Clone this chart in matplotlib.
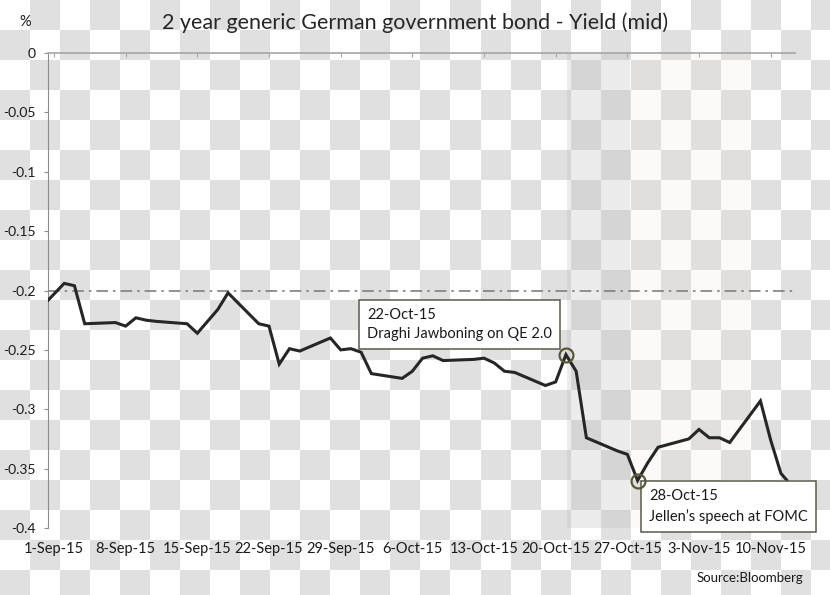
import numpy as np
import pandas as pd
import matplotlib
matplotlib.use("Agg")
import matplotlib.pyplot as plt

plt.rcParams['font.family'] = ['Lato', 'DejaVu Sans']

# 2y German bond yield (mid), business days
dates = ['2015-08-31', '2015-09-01', '2015-09-02', '2015-09-03', '2015-09-04',
         '2015-09-07', '2015-09-08', '2015-09-09', '2015-09-10', '2015-09-11',
         '2015-09-14', '2015-09-15', '2015-09-16', '2015-09-17', '2015-09-18',
         '2015-09-21', '2015-09-22', '2015-09-23', '2015-09-24', '2015-09-25',
         '2015-09-28', '2015-09-29', '2015-09-30', '2015-10-01', '2015-10-02',
         '2015-10-05', '2015-10-06', '2015-10-07', '2015-10-08', '2015-10-09',
         '2015-10-12', '2015-10-13', '2015-10-14', '2015-10-15', '2015-10-16',
         '2015-10-19', '2015-10-20', '2015-10-21', '2015-10-22', '2015-10-23',
         '2015-10-26', '2015-10-27', '2015-10-28', '2015-10-29', '2015-10-30',
         '2015-11-02', '2015-11-03', '2015-11-04', '2015-11-05', '2015-11-06',
         '2015-11-09', '2015-11-10', '2015-11-11', '2015-11-12']
yields = [-0.212, -0.203, -0.194, -0.196, -0.228,
          -0.227, -0.230, -0.223, -0.225, -0.226,
          -0.228, -0.236, -0.226, -0.216, -0.202,
          -0.228, -0.230, -0.262, -0.249, -0.251,
          -0.240, -0.250, -0.249, -0.252, -0.270,
          -0.274, -0.268, -0.257, -0.255, -0.259,
          -0.258, -0.257, -0.261, -0.268, -0.269,
          -0.280, -0.277, -0.254, -0.268, -0.324,
          -0.335, -0.338, -0.360, -0.345, -0.332,
          -0.325, -0.317, -0.324, -0.324, -0.328,
          -0.293, -0.326, -0.354, -0.364]

tick_dates = ['2015-09-01', '2015-09-08', '2015-09-15', '2015-09-22', '2015-09-29',
              '2015-10-06', '2015-10-13', '2015-10-20', '2015-10-27', '2015-11-03',
              '2015-11-10']
tick_labels = ['1-Sep-15', '8-Sep-15', '15-Sep-15', '22-Sep-15', '29-Sep-15',
               '6-Oct-15', '13-Oct-15', '20-Oct-15', '27-Oct-15', '3-Nov-15',
               '10-Nov-15']
y_ticks = [0, -0.05, -0.1, -0.15, -0.2, -0.25, -0.3, -0.35, -0.4]
y_labels = ['0', '-0.05', '-0.1', '-0.15', '-0.2', '-0.25', '-0.3', '-0.35', '-0.4']

ref_level = -0.2
event_dates = ['2015-10-21', '2015-10-28']
event_texts = ['22-Oct-15\nDraghi Jawboning on QE 2.0',
               '28-Oct-15\nJellen\u2019s speech at FOMC']
event_offsets = [(-106, 30), (91, -26)]   # pixels, box centre from point

dark_band = ('2015-10-21 03:00', '2015-10-27 06:00')
light_band = ('2015-10-27 06:00', '2015-11-08 00:00')

x = pd.to_datetime(dates)
s = pd.Series(yields, index=x)

fig = plt.figure(figsize=(8.3, 5.95), dpi=100)

# checkered background (transparent png look)
bg = fig.add_axes([0, 0, 1, 1], zorder=-10)
rows, cols = 20, 28
checker = (np.add.outer(np.arange(rows), np.arange(cols)) % 2).astype(float)
bg.imshow(checker, cmap=matplotlib.colors.ListedColormap(['#ffffff', '#e0e0e0']),
          extent=(0, cols * 30, rows * 30, 0), interpolation='nearest')
bg.set_xlim(0, 830)
bg.set_ylim(595, 0)
bg.axis('off')

ax = fig.add_axes([48 / 830, 67 / 595, 747 / 830, 475 / 595])
ax.patch.set_alpha(0)

ax.axvspan(pd.Timestamp(dark_band[0]), pd.Timestamp(dark_band[1]),
           color='#b6b6b6', alpha=0.26, lw=0, zorder=0)
ax.axvspan(pd.Timestamp(light_band[0]), pd.Timestamp(light_band[1]),
           color='#e8dcc0', alpha=0.14, lw=0, zorder=0)

ax.axhline(ref_level, color='#7f7f7f', lw=1.2, ls=(0, (7, 3, 1.5, 3)), zorder=1)
ax.plot(x, yields, color='#262626', lw=2.2, zorder=3, solid_joinstyle='miter')

for d, txt, off in zip(event_dates, event_texts, event_offsets):
    xd = pd.Timestamp(d)
    yv = s[xd]
    ax.plot([xd], [yv], marker='o', ms=10, mfc='none', mec='#5a5638', mew=1.6,
            zorder=7, clip_on=False)
    ax.annotate(txt, xy=(xd, yv), xytext=off, textcoords='offset pixels',
                ha='center', va='center', multialignment='left', fontsize=10.5,
                linespacing=1.45, color='#1a1a1a', zorder=6, annotation_clip=False,
                bbox=dict(boxstyle='square,pad=0.55', fc='white', ec='#5a5a4a', lw=1.1))

ax.set_xlim(pd.Timestamp('2015-09-01') - pd.Timedelta(hours=14),
            pd.Timestamp('2015-09-01') + pd.Timedelta(hours=int(72.4 * 24)))
ax.set_ylim(-0.4, 0)
ax.set_yticks(y_ticks)
ax.set_yticklabels(y_labels)
ax.set_xticks(pd.to_datetime(tick_dates))
ax.set_xticklabels(tick_labels)

for sp in ['right', 'bottom']:
    ax.spines[sp].set_visible(False)
ax.spines['left'].set_color('#8c8c8c')
ax.spines['top'].set_color('#a6a6a6')
ax.spines['top'].set_linewidth(1.2)

ax.tick_params(axis='y', length=3, color='#8c8c8c', pad=6, labelsize=10,
               labelcolor='#1a1a1a')
ax.tick_params(axis='x', bottom=False, top=True, direction='in', length=3,
               color='#a6a6a6', labelbottom=True, labeltop=False, pad=10,
               labelsize=10.5, labelcolor='#1a1a1a')

fig.text(415 / 830, 1 - 23 / 595, '2 year generic German government bond - Yield (mid)',
         ha='center', va='center', fontsize=15.5, color='#262626')
fig.text(25 / 830, 1 - 22 / 595, '%', ha='center', va='center', fontsize=10.5,
         color='#1a1a1a')
fig.text(803 / 830, 1 - 578 / 595, 'Source:Bloomberg', ha='right', va='center',
         fontsize=9.5, color='#1a1a1a')

fig.savefig('out.png', dpi=100)
